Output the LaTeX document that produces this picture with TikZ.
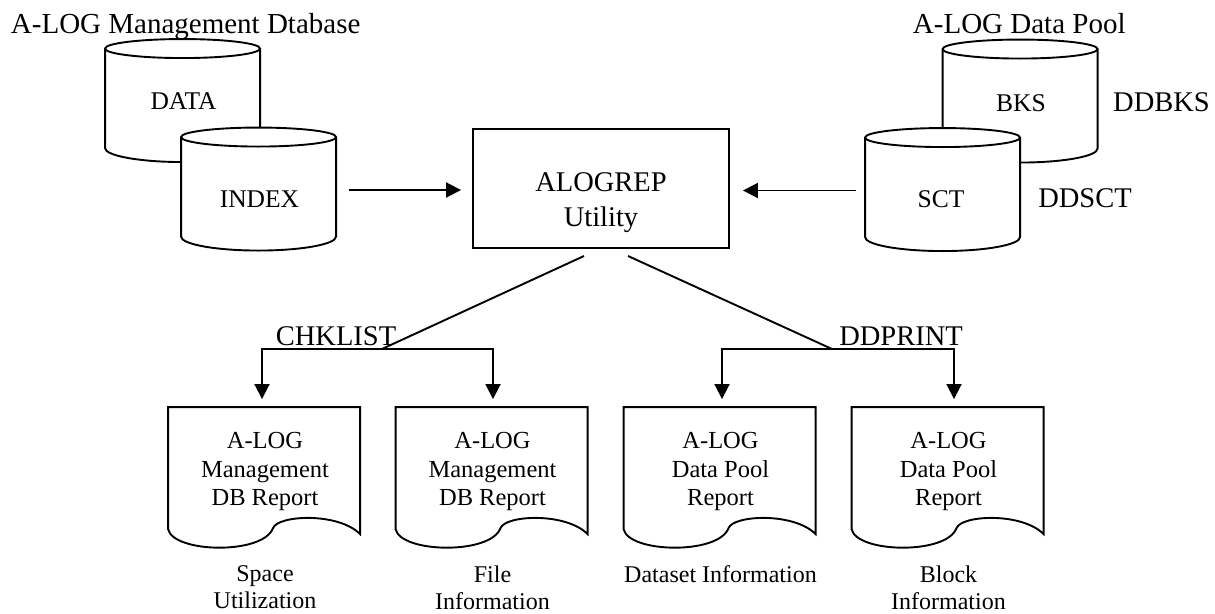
\documentclass[tikz,border=0pt]{standalone}
\usepackage{fontspec}
\setmainfont{Liberation Serif}
\usetikzlibrary{arrows.meta}

% storage drum drawn around a node: #1 node name, #2 height
\newcommand\drum[2]{%
  \begin{scope}[shift={(#1.north west)}]
    \draw[fill=white] (0,9.5) -- (0,#2-14)
      .. controls (0,#2-6.27) and (34.7,#2) .. (77.5,#2)
      .. controls (120.3,#2) and (155,#2-6.27) .. (155,#2-14)
      -- (155,9.5)
      .. controls (155,4.25) and (120.3,0) .. (77.5,0)
      .. controls (34.7,0) and (0,4.25) .. (0,9.5) -- cycle;
    \draw (0,9.5) .. controls (0,14.75) and (34.7,19) .. (77.5,19)
      .. controls (120.3,19) and (155,14.75) .. (155,9.5);
  \end{scope}}

% printed report outline around a node
\newcommand\sheet[1]{%
  \begin{scope}[shift={(#1.north west)}]
    \draw (0,122) -- (0,0) -- (192,0) -- (192,127)
      .. controls (170,105) and (110,108) .. (105,121)
      .. controls (95,148) and (5,146) .. (0,122) -- cycle;
  \end{scope}}

\begin{document}
\begin{tikzpicture}[x=1pt,y=-1pt,line width=1.9pt,
  tip/.tip={Triangle[length=15pt,width=15pt]},
  arr/.style={-tip},
  duo/.style={tip-tip,shorten <=8pt,shorten >=8pt},
  drumbox/.style={inner sep=0pt,minimum width=155pt,minimum height=123pt},
  sheetbox/.style={inner sep=0pt,minimum width=192pt,minimum height=127pt,
    align=center,font=\fontsize{24.5}{28.5}\selectfont},
  caption/.style={inner sep=0pt,anchor=north,align=center,
    font=\fontsize{24}{27}\selectfont},
  title/.style={inner sep=0pt,anchor=base west,font=\fontsize{29}{34}\selectfont},
  drumtext/.style={inner sep=0pt,anchor=base,font=\fontsize{25.5}{30}\selectfont},
  bigtext/.style={inner sep=0pt,anchor=base,font=\fontsize{28.5}{34}\selectfont}]

\useasboundingbox[fill=white] (0,0) rectangle (1215,613);

% database titles
\node[title] (mgmt) at (10,33) {A-LOG Management Dtabase};
\node[title] (pool) at (912,33) {A-LOG Data Pool};

% management database drums
\node[drumbox] (data) at (183.5,101.5) {};
\drum{data}{123}
\node[drumtext] (datatext) at (183.5,109) {DATA};
\node[drumbox] (idx) at (259.5,190) {};
\drum{idx}{123}
\node[drumtext] (idxtext) at (259.5,207) {INDEX};

% data pool drums
\node[drumbox] (bks) at (1021,102) {};
\drum{bks}{123}
\node[drumtext] (bkstext) at (1021,111) {BKS};
\node[bigtext] (ddbks) at (1161.5,111) {DDBKS};
\node[drumbox] (sct) at (943.5,190.5) {};
\drum{sct}{123}
\node[drumtext] (scttext) at (941,207) {SCT};
\node[bigtext] (ddsct) at (1085,207) {DDSCT};

% utility
\node[draw,inner sep=0pt,minimum width=256pt,minimum height=119pt] (alog) at (601,188.5) {};
\node[inner sep=0pt,align=center,font=\fontsize{28.5}{35}\selectfont] (alogtext) at (601,202.5) {ALOGREP\\Utility};

\draw[arr,shorten <=11pt,shorten >=11pt] (idx.east) -- (idx.east -| alog.west);
\draw[arr,shorten <=9pt,shorten >=13pt] (sct.west) -- (sct.west -| alog.east);

% reports
\node[sheetbox] (d1) at (265,471.5) {A-LOG\\Management\\DB Report};
\node[sheetbox] (d2) at (492.5,471.5) {A-LOG\\Management\\DB Report};
\node[sheetbox] (d3) at (720.5,471.5) {A-LOG\\Data Pool\\Report};
\node[sheetbox] (d4) at (948.5,471.5) {A-LOG\\Data Pool\\Report};
\sheet{d1}
\sheet{d2}
\sheet{d3}
\sheet{d4}

\node[caption] (c1) at (265,565) {Space\\Utilization};
\node[caption] (c2) at (492.5,565) {File\\Information};
\node[caption] (c3) at (720.5,565) {Dataset Information};
\node[caption] (c4) at (948.5,565) {Block\\Information};

% output branches
\coordinate (o1) at (584,256);
\coordinate (o2) at (628,256);
\coordinate (j1) at (382,349);
\coordinate (j2) at (832,349);
\coordinate (k1) at (262,349);
\coordinate (k2) at (493,349);
\coordinate (k3) at (722,349);
\coordinate (k4) at (954,349);

\draw (o1) -- (j1);
\draw (o2) -- (j2);
\draw[duo] (k1 |- d1.north) -- (k1) -- (k2) -- (k2 |- d2.north);
\draw[duo] (k3 |- d3.north) -- (k3) -- (k4) -- (k4 |- d4.north);

\node[bigtext] (chk) at (336,345) {CHKLIST};
\node[bigtext] (ddp) at (901,345) {DDPRINT};

\end{tikzpicture}
\end{document}
